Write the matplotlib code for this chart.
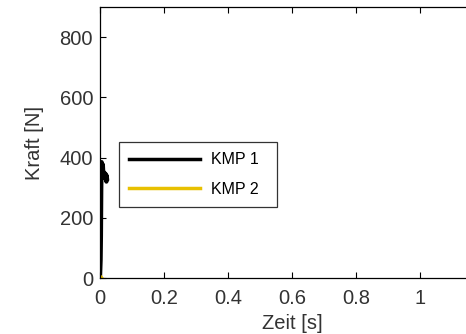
import matplotlib
matplotlib.use("Agg")
import matplotlib.pyplot as plt

# KMP 1: force rises sharply near t=0 then oscillates
t_kmp1 = [0.000, 0.002, 0.003, 0.004, 0.005, 0.006, 0.007, 0.008, 0.009, 0.010,
          0.012, 0.014, 0.016, 0.018, 0.020, 0.021, 0.022]
f_kmp1 = [0, 60, 140, 300, 385, 365, 380, 350, 375, 355,
          345, 350, 330, 345, 320, 340, 330]
# KMP 2: stays near zero
t_kmp2 = [0.000, 0.002, 0.004]
f_kmp2 = [0, 3, 0]

x_ticks = [0, 0.2, 0.4, 0.6, 0.8, 1]
x_tick_labels = ["0", "0.2", "0.4", "0.6", "0.8", "1"]
y_ticks = [0, 200, 400, 600, 800]
y_tick_labels = ["0", "200", "400", "600", "800"]

plt.rcParams['font.family'] = ['Liberation Sans', 'DejaVu Sans']

fig = plt.figure(figsize=(4.66, 3.34), dpi=100)
ax = fig.add_axes([100/466, 56/334, 384/466, 271/334])

ax.plot(t_kmp1, f_kmp1, color='black', lw=3, label='KMP 1')
ax.plot(t_kmp2, f_kmp2, color='#e8c000', lw=3, label='KMP 2')

ax.set_xlim(0, 1.2)
ax.set_ylim(0, 900)
ax.set_xticks(x_ticks)
ax.set_xticklabels(x_tick_labels)
ax.set_yticks(y_ticks)
ax.set_yticklabels(y_tick_labels)
ax.tick_params(axis='both', direction='in', length=4, width=0.8, labelsize=14.5,
               top=True, right=False, labelcolor='#333333')
ax.tick_params(axis='x', pad=8)
ax.tick_params(axis='y', pad=5)
for s in ax.spines.values():
    s.set_linewidth(0.9)
ax.spines['right'].set_visible(False)

ax.set_xlabel('Zeit [s]', fontsize=14.5, labelpad=4, color='#333333')
ax.set_ylabel('Kraft [N]', fontsize=14.5, labelpad=11, color='#333333')

leg = ax.legend(loc='lower left', bbox_to_anchor=(19/384, 71/271, 158/384, 67/271),
                mode='expand', prop={'family': 'Liberation Sans', 'size': 11.5},
                frameon=True, fancybox=False,
                edgecolor='black', handlelength=4.4, handletextpad=0.75,
                borderaxespad=0, labelspacing=0.9, borderpad=0.64)
leg.get_frame().set_linewidth(0.9)
leg._legend_box.set_offset = leg._legend_box.set_offset
for h in leg.get_lines():
    h.set_linewidth(2.5)

fig.savefig('out.png', dpi=100)
